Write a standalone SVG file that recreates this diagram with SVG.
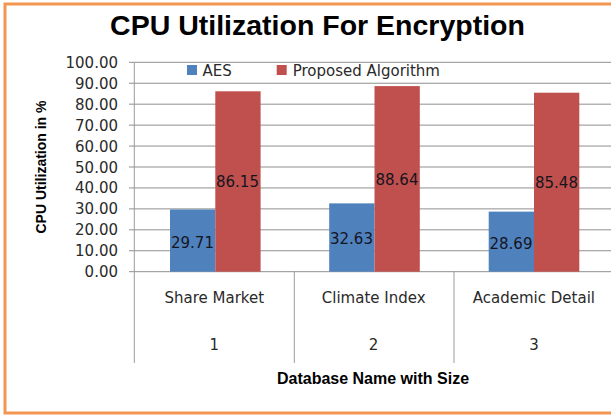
<svg xmlns="http://www.w3.org/2000/svg" width="611" height="415" viewBox="0 0 611 415">
<style>
.grid{stroke:#8f8f8f;stroke-width:1;fill:none}
.axis{stroke:#9a9a9a;stroke-width:1;fill:none}
.tick{font-family:"DejaVu Sans",sans-serif;font-size:15px;fill:#2a2a2a;text-anchor:end}
.cat{font-family:"DejaVu Sans",sans-serif;font-size:15px;fill:#2a2a2a;text-anchor:middle}
.leg{font-family:"DejaVu Sans",sans-serif;font-size:15px;fill:#2a2a2a}
.val{font-family:"DejaVu Sans",sans-serif;font-size:15px;fill:#15151f;text-anchor:middle}
.aes{fill:#4F81BD}
.prop{fill:#C0504D}
.ttl{font-family:"Liberation Sans",Arial,sans-serif;font-weight:bold;fill:#000}
</style>
<rect x="0" y="0" width="611" height="415" fill="#ffffff"/>
<rect id="frame" x="5" y="4" width="640" height="409" fill="#ffffff" stroke="#F39650" stroke-width="3"/>
<g id="title">
<text class="ttl" x="317.5" y="35" font-size="28.5" text-anchor="middle">CPU Utilization For Encryption</text>
</g>
<g id="gridlines">
<line class="grid" x1="129" y1="62.3" x2="611" y2="62.3"/>
<line class="grid" x1="129" y1="83.24" x2="611" y2="83.24"/>
<line class="grid" x1="129" y1="104.18" x2="611" y2="104.18"/>
<line class="grid" x1="129" y1="125.12" x2="611" y2="125.12"/>
<line class="grid" x1="129" y1="146.06" x2="611" y2="146.06"/>
<line class="grid" x1="129" y1="167" x2="611" y2="167"/>
<line class="grid" x1="129" y1="187.94" x2="611" y2="187.94"/>
<line class="grid" x1="129" y1="208.88" x2="611" y2="208.88"/>
<line class="grid" x1="129" y1="229.82" x2="611" y2="229.82"/>
<line class="grid" x1="129" y1="250.76" x2="611" y2="250.76"/>
<line class="grid" x1="129" y1="271.7" x2="611" y2="271.7"/>
</g>
<g id="y-axis">
<line class="axis" x1="134.3" y1="62.3" x2="134.3" y2="363"/>
<line class="axis" x1="294.3" y1="271.7" x2="294.3" y2="363"/>
<line class="axis" x1="454" y1="271.7" x2="454" y2="363"/>
<text class="tick" x="118" y="67.8">100.00</text>
<text class="tick" x="118" y="88.74">90.00</text>
<text class="tick" x="118" y="109.68">80.00</text>
<text class="tick" x="118" y="130.62">70.00</text>
<text class="tick" x="118" y="151.56">60.00</text>
<text class="tick" x="118" y="172.5">50.00</text>
<text class="tick" x="118" y="193.44">40.00</text>
<text class="tick" x="118" y="214.38">30.00</text>
<text class="tick" x="118" y="235.32">20.00</text>
<text class="tick" x="118" y="256.26">10.00</text>
<text class="tick" x="118" y="277.2">0.00</text>
<text class="ttl" font-size="14" text-anchor="middle" transform="translate(46,167) rotate(-90)">CPU Utilization in %</text>
</g>
<g id="bars">
<rect class="aes" x="170" y="209.49" width="45.3" height="62.21"/>
<rect class="prop" x="215.3" y="91.3" width="45.3" height="180.4"/>
<rect class="aes" x="329.2" y="203.37" width="45.3" height="68.33"/>
<rect class="prop" x="374.5" y="86.09" width="45.3" height="185.61"/>
<rect class="aes" x="488.7" y="211.62" width="45.3" height="60.08"/>
<rect class="prop" x="534" y="92.7" width="45.3" height="179"/>
</g>
<g id="data-labels">
<text class="val" x="192.5" y="248">29.71</text>
<text class="val" x="237.5" y="187.3">86.15</text>
<text class="val" x="351.5" y="244">32.63</text>
<text class="val" x="397" y="185">88.64</text>
<text class="val" x="511" y="249.3">28.69</text>
<text class="val" x="556.5" y="188.3">85.48</text>
</g>
<g id="legend">
<rect class="aes" x="187" y="65" width="10" height="10"/>
<text class="leg" x="202.5" y="76">AES</text>
<rect class="prop" x="276.7" y="65" width="10" height="10"/>
<text class="leg" x="292.7" y="76">Proposed Algorithm</text>
</g>
<g id="x-axis">
<text class="cat" x="214.3" y="303.3">Share Market</text>
<text class="cat" x="373.7" y="303.3">Climate Index</text>
<text class="cat" x="533.9" y="303.3">Academic Detail</text>
<text class="cat" x="214.3" y="350">1</text>
<text class="cat" x="373.5" y="350">2</text>
<text class="cat" x="534" y="350">3</text>
<text class="ttl" x="373" y="383.5" font-size="16" text-anchor="middle">Database Name with Size</text>
</g>
</svg>
